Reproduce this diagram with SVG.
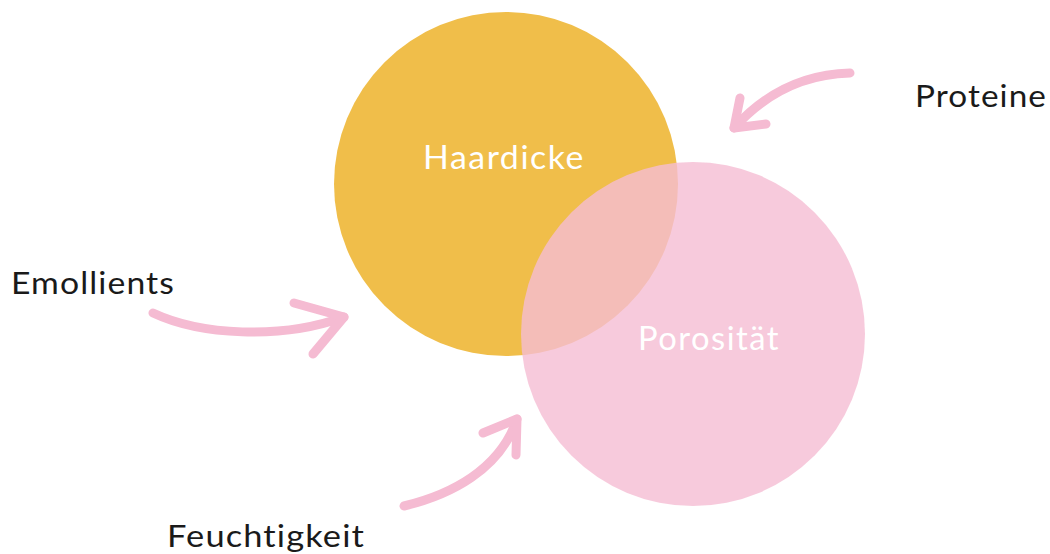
<svg xmlns="http://www.w3.org/2000/svg" width="1050" height="554" viewBox="0 0 1050 554">
<style>
.lbl{font-family:"Lato","Liberation Sans",sans-serif;font-size:31px;fill:#1a1a1a;letter-spacing:1px}
.in{font-family:"Lato","Liberation Sans",sans-serif;font-size:33px;fill:#ffffff;letter-spacing:1.5px}
.arr{fill:none;stroke:#F5BBD2;stroke-width:9;stroke-linecap:round;stroke-linejoin:round}
</style>
<rect width="1050" height="554" fill="#ffffff"/>
<g id="haardicke">
<circle cx="506" cy="184" r="172" fill="#F0BE4A"/>
<text class="in" x="423" y="169" textLength="162" lengthAdjust="spacingAndGlyphs">Haardicke</text>
</g>
<g id="porositaet">
<circle cx="693" cy="334" r="172" fill="#F5BDD3" fill-opacity="0.8"/>
<text class="in" x="638" y="350" textLength="142" lengthAdjust="spacingAndGlyphs">Porosität</text>
</g>
<g id="proteine">
<text class="lbl" x="915" y="107" textLength="132" lengthAdjust="spacingAndGlyphs">Proteine</text>
</g>
<g id="emollients">
<text class="lbl" x="11" y="294" textLength="164" lengthAdjust="spacingAndGlyphs">Emollients</text>
</g>
<g id="feuchtigkeit">
<text class="lbl" x="167" y="547" textLength="198" lengthAdjust="spacingAndGlyphs">Feuchtigkeit</text>
</g>
<g id="connectors">
<path class="arr" d="M850 73 C810 74 770 88 734 128"/>
<path class="arr" d="M740 98 L734 128 L766 124"/>
<path class="arr" d="M153 313 C200 335 280 340 344 317"/>
<path class="arr" d="M294 303 L344 317 L313 354"/>
<path class="arr" d="M404 506 C450 495 500 470 517 419"/>
<path class="arr" d="M483 433 L517 419 L516 455"/>
</g>
</svg>
